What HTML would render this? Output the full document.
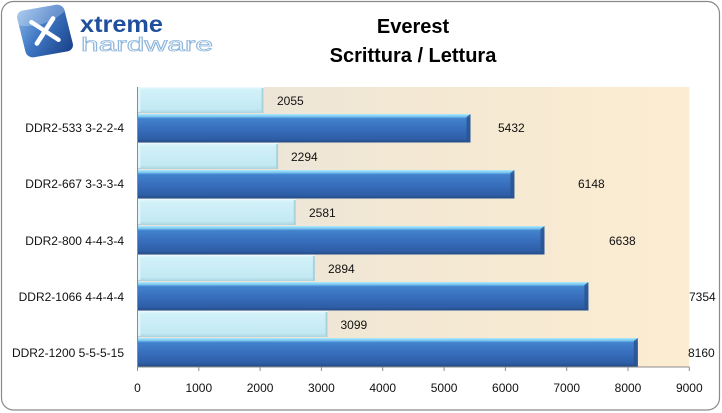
<!DOCTYPE html>
<html><head><meta charset="utf-8"><style>
html,body{margin:0;padding:0;background:#fff;}
svg{display:block;}
text{font-family:"Liberation Sans",Arial,sans-serif;}
</style></head><body>
<svg width="722" height="413" viewBox="0 0 722 413" xmlns="http://www.w3.org/2000/svg">
<defs>
<linearGradient id="bg" x1="0" y1="0" x2="1" y2="0">
<stop offset="0" stop-color="#e7e3da"/>
<stop offset="0.5" stop-color="#f3e8d3"/>
<stop offset="1" stop-color="#fcedd2"/>
</linearGradient>
<linearGradient id="dk" x1="0" y1="0" x2="0" y2="1">
<stop offset="0" stop-color="#b0eafc"/>
<stop offset="0.09" stop-color="#78c6f0"/>
<stop offset="0.16" stop-color="#4283cd"/>
<stop offset="0.5" stop-color="#386fbe"/>
<stop offset="0.88" stop-color="#2e5ea6"/>
<stop offset="1" stop-color="#244c86"/>
</linearGradient>
<linearGradient id="lt" x1="0" y1="0" x2="0" y2="1">
<stop offset="0" stop-color="#eefbfe"/>
<stop offset="0.1" stop-color="#d2f1f9"/>
<stop offset="0.85" stop-color="#c3e9f3"/>
<stop offset="1" stop-color="#a9d3df"/>
</linearGradient>
<linearGradient id="ic" x1="0" y1="0" x2="1" y2="1">
<stop offset="0" stop-color="#8fbbe8"/>
<stop offset="0.45" stop-color="#3f77c4"/>
<stop offset="1" stop-color="#173f86"/>
</linearGradient>
</defs>

<rect x="1.5" y="1.5" width="718" height="408.5" rx="12" ry="12" fill="#fff" stroke="#8a8a8a" stroke-width="1.2"/>

<!-- logo -->
<g transform="translate(45,31) rotate(-10) skewX(4)">
<rect x="-24" y="-24" width="48" height="48" rx="7" fill="url(#ic)"/>
<path d="M-24,-10 Q0,-2 24,-16 L24,-17 Q24,-24 17,-24 L-17,-24 Q-24,-24 -24,-17 Z" fill="#ffffff" opacity="0.25"/>
<path d="M-11,-11 L11,11 M11,-11 L-11,11" stroke="#fff" stroke-width="4.5" stroke-linecap="round"/>
</g>
<text x="80" y="32" font-size="23" font-weight="bold" fill="#1f4f9d" textLength="83" lengthAdjust="spacingAndGlyphs">xtreme</text>
<text x="81" y="51" font-size="19" fill="#ffffff" stroke="#8fb7dc" stroke-width="0.8" textLength="132" lengthAdjust="spacingAndGlyphs">hardware</text>

<!-- title -->
<text x="413" y="33" font-size="20" font-weight="bold" text-anchor="middle" fill="#000">Everest</text>
<text x="413" y="62" font-size="20" font-weight="bold" text-anchor="middle" fill="#000">Scrittura / Lettura</text>

<!-- plot bg -->
<rect x="137.5" y="87" width="551.8" height="280" fill="url(#bg)"/>

<!-- bars -->
<g>
<rect x="137.5" y="87" width="126" height="26" fill="url(#lt)"/>
<rect x="137.5" y="114" width="333" height="28.5" fill="url(#dk)"/>
<rect x="137.5" y="143" width="140.6" height="26" fill="url(#lt)"/>
<rect x="137.5" y="170" width="376.9" height="28.5" fill="url(#dk)"/>
<rect x="137.5" y="199" width="158.2" height="26" fill="url(#lt)"/>
<rect x="137.5" y="226" width="407" height="28.5" fill="url(#dk)"/>
<rect x="137.5" y="255" width="177.4" height="26" fill="url(#lt)"/>
<rect x="137.5" y="282" width="450.9" height="28.5" fill="url(#dk)"/>
<rect x="137.5" y="311" width="190" height="26" fill="url(#lt)"/>
<rect x="137.5" y="338" width="500.3" height="28.5" fill="url(#dk)"/>
</g>
<!-- bar end bevels -->
<g fill="#2a5592" opacity="0.85">
<polygon points="466.5,117 470.5,114 470.5,142.5 466.5,140.5"/>
<polygon points="510.4,173 514.4,170 514.4,198.5 510.4,196.5"/>
<polygon points="540.5,229 544.5,226 544.5,254.5 540.5,252.5"/>
<polygon points="584.4,285 588.4,282 588.4,310.5 584.4,308.5"/>
<polygon points="633.8,341 637.8,338 637.8,366.5 633.8,364.5"/>
</g>
<g fill="#a7d0dc" opacity="0.9">
<rect x="261.5" y="88" width="2" height="25"/>
<rect x="276.1" y="144" width="2" height="25"/>
<rect x="293.7" y="200" width="2" height="25"/>
<rect x="312.9" y="256" width="2" height="25"/>
<rect x="325.5" y="312" width="2" height="25"/>
</g>
<g fill="#e6f8fc" opacity="0.8">
<rect x="137.5" y="88" width="3" height="24"/>
<rect x="137.5" y="144" width="3" height="24"/>
<rect x="137.5" y="200" width="3" height="24"/>
<rect x="137.5" y="256" width="3" height="24"/>
<rect x="137.5" y="312" width="3" height="24"/>
</g>

<!-- axes -->
<line x1="137.5" y1="87" x2="137.5" y2="371" stroke="#8c8c8c" stroke-width="1"/>
<line x1="137.5" y1="367" x2="689.3" y2="367" stroke="#8c8c8c" stroke-width="1"/>
<g stroke="#8c8c8c" stroke-width="1">
<line x1="198.8" y1="367" x2="198.8" y2="371"/>
<line x1="260.1" y1="367" x2="260.1" y2="371"/>
<line x1="321.4" y1="367" x2="321.4" y2="371"/>
<line x1="382.7" y1="367" x2="382.7" y2="371"/>
<line x1="444.1" y1="367" x2="444.1" y2="371"/>
<line x1="505.4" y1="367" x2="505.4" y2="371"/>
<line x1="566.7" y1="367" x2="566.7" y2="371"/>
<line x1="628" y1="367" x2="628" y2="371"/>
<line x1="689.3" y1="367" x2="689.3" y2="371"/>
</g>

<!-- tick labels -->
<g font-size="12" fill="#111" text-anchor="middle">
<text x="137.5" y="392">0</text>
<text x="198.8" y="392">1000</text>
<text x="260.1" y="392">2000</text>
<text x="321.4" y="392">3000</text>
<text x="382.7" y="392">4000</text>
<text x="444.1" y="392">5000</text>
<text x="505.4" y="392">6000</text>
<text x="566.7" y="392">7000</text>
<text x="628" y="392">8000</text>
<text x="689.3" y="392">9000</text>
</g>

<!-- category labels -->
<g font-size="12" fill="#111" text-anchor="end">
<text x="124" y="132">DDR2-533 3-2-2-4</text>
<text x="124" y="188">DDR2-667 3-3-3-4</text>
<text x="124" y="245">DDR2-800 4-4-3-4</text>
<text x="124" y="301">DDR2-1066 4-4-4-4</text>
<text x="124" y="357">DDR2-1200 5-5-5-15</text>
</g>

<!-- value labels -->
<g font-size="12" fill="#111">
<text x="277" y="105">2055</text>
<text x="291" y="161">2294</text>
<text x="309" y="217">2581</text>
<text x="328" y="273">2894</text>
<text x="340.5" y="329">3099</text>
<text x="498" y="132">5432</text>
<text x="578" y="188">6148</text>
<text x="609" y="245">6638</text>
<text x="689" y="301">7354</text>
<text x="688" y="357">8160</text>
</g>
</svg>
</body></html>
